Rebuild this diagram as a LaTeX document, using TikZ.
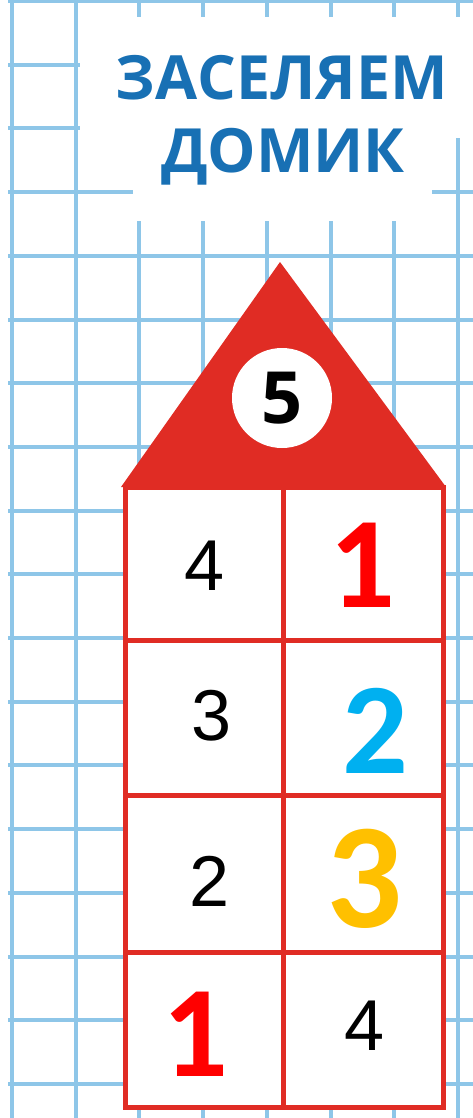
\documentclass[tikz,border=0pt]{standalone}
\usepackage{fontspec}
\setmainfont{Liberation Sans}
\newfontfamily\titlefont{Open Sans}
\newfontfamily\digitfont{Carlito}
\usepackage{tikz}
\usetikzlibrary{positioning}

\definecolor{gridblue}{RGB}{142,198,232}
\definecolor{titleblue}{RGB}{24,112,180}
\definecolor{roofred}{RGB}{224,44,36}
\definecolor{numred}{RGB}{255,0,0}
\definecolor{numcyan}{RGB}{0,176,240}
\definecolor{numorange}{RGB}{255,192,0}

\tikzset{
  gridln/.style={gridblue, line width=4pt},
  wall/.style={draw=roofred, line width=5pt},
  titletxt/.style={anchor=base, inner sep=0pt, text=titleblue, font=\titlefont\bfseries\fontsize{61}{62}\selectfont},
  thinnum/.style={anchor=base, inner sep=0pt, font=\fontsize{72}{72}\selectfont},
  fatnum/.style={anchor=base, inner sep=0pt, font=\digitfont\bfseries\fontsize{130}{130}\selectfont},
}

\begin{document}
\begin{tikzpicture}[x=1pt,y=-1pt]
  \useasboundingbox (0,0) rectangle (473,1118);
  \fill[white] (0,0) rectangle (473,1118);
  % squared paper
  \foreach \i in {0,...,7}
    \draw[gridln] ({12+63.7*\i},0) -- ({12+63.7*\i},1118);
  \foreach \j in {0,...,17}
    \draw[gridln] (8,{1+63.7*\j}) -- (473,{1+63.7*\j});
  % white patch under the title
  \fill[white] (80,17) rectangle (473,138);
  \fill[white] (133,17) rectangle (432,221);
  \node[titletxt] (title1) at (282,100) {ЗАСЕЛЯЕМ};
  \node[titletxt] (title2) at (283,172) {ДОМИК};
  % roof
  \fill[roofred] (121,487) -- (280,262) -- (446,487) -- cycle;
  \node[circle, fill=white, minimum size=100pt, inner sep=0pt] (ball) at (282,398) {};
  \node[anchor=base, inner sep=0pt, font=\titlefont\bfseries\fontsize{72}{72}\selectfont] (five) at (282,423) {5};
  % floors
  \filldraw[wall, fill=white] (125,487) rectangle (443,1107);
  \draw[wall] (283,487) -- (283,1107);
  \foreach \y in {640,795,952}
    \draw[wall] (125,\y) -- (443,\y);
  % residents
  \node[thinnum] (a1) at (205,590) {4};
  \node[fatnum, text=numred] (b1) at (362,607) {1};
  \node[thinnum] (a2) at (212,740) {3};
  \node[fatnum, text=numcyan] (b2) at (375,773) {2};
  \node[thinnum] (a3) at (210,906) {2};
  \node[fatnum, text=numorange, font=\digitfont\bfseries\fontsize{150}{150}\selectfont] (b3) at (365,927) {3};
  \node[fatnum, text=numred] (a4) at (195,1076) {1};
  \node[thinnum] (b4) at (365,1050) {4};
\end{tikzpicture}
\end{document}
